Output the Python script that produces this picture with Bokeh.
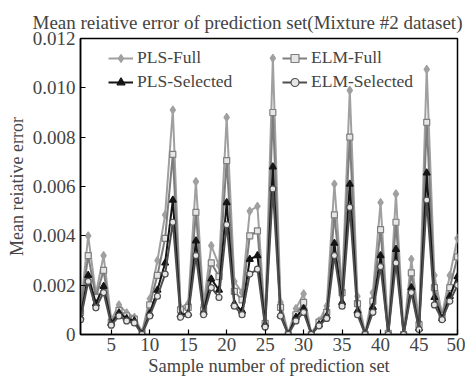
from bokeh.plotting import figure
from bokeh.models import Legend, LegendItem, FixedTicker, NumeralTickFormatter, Range1d
from bokeh.embed import file_html
from bokeh.resources import INLINE

samples = list(range(1, 51))
pls_full = [0.0010, 0.0040, 0.00165, 0.0032, 0.0006, 0.0012, 0.00088, 0.0007, 0.0001, 0.00145,
            0.0030, 0.00485, 0.0091, 0.0011, 0.00125, 0.0062, 0.0012, 0.0036, 0.0028, 0.0088,
            0.00215, 0.0017, 0.0050, 0.0052, 0.0005, 0.0112, 0.0013, 0.00005, 0.00105, 0.00165,
            0.00005, 0.00055, 0.00115, 0.0061, 0.0018, 0.0099, 0.00155, 0.00005, 0.0017, 0.00535,
            0.0001, 0.0057, 0.00005, 0.00305, 0.0005, 0.01075, 0.0024, 0.0008, 0.0024, 0.0039]
elm_full = [0.0009, 0.0032, 0.0015, 0.0026, 0.0005, 0.00098, 0.00075, 0.00062, 0.00005, 0.0012,
            0.0024, 0.0039, 0.0073, 0.0010, 0.0011, 0.00495, 0.0010, 0.0029, 0.00235, 0.00705,
            0.00175, 0.0014, 0.0040, 0.0042, 0.00045, 0.0090, 0.0011, 0.0, 0.0008, 0.0013,
            0.0, 0.0005, 0.0009, 0.00485, 0.0017, 0.0080, 0.00125, 0.0, 0.00135, 0.00425,
            0.00005, 0.00455, 0.0, 0.0025, 0.0004, 0.0086, 0.0019, 0.00075, 0.0019, 0.00315]
pls_sel = [0.0007, 0.0024, 0.00125, 0.00195, 0.00045, 0.00088, 0.00065, 0.00055, 0.00002, 0.00085,
           0.0018, 0.0029, 0.00545, 0.0008, 0.00085, 0.0038, 0.0009, 0.00225, 0.0018, 0.00535,
           0.00125, 0.00095, 0.00305, 0.0032, 0.0004, 0.0068, 0.0008, 0.0, 0.0007, 0.00105,
           0.0, 0.0004, 0.00075, 0.0037, 0.0013, 0.0061, 0.00095, 0.0, 0.0011, 0.0032,
           0.0, 0.00345, 0.0, 0.0019, 0.00025, 0.00655, 0.0015, 0.00065, 0.00155, 0.00235]
elm_sel = [0.0006, 0.00215, 0.00108, 0.0017, 0.00038, 0.00075, 0.00055, 0.00047, 0.0, 0.00075,
           0.00155, 0.00245, 0.00455, 0.0007, 0.0008, 0.0032, 0.0008, 0.0019, 0.0015, 0.00445,
           0.00115, 0.0008, 0.00245, 0.00265, 0.0003, 0.0059, 0.00075, 0.0, 0.00055, 0.0009,
           0.0, 0.00035, 0.00065, 0.0032, 0.00115, 0.00515, 0.0008, 0.0, 0.0009, 0.00275,
           0.0, 0.0029, 0.0, 0.0017, 0.0002, 0.00545, 0.0012, 0.0006, 0.00135, 0.0020]

x_ticks = [5, 10, 15, 20, 25, 30, 35, 40, 45, 50]
y_ticks = [0, 0.002, 0.004, 0.006, 0.008, 0.010, 0.012]

FONT = "Liberation Serif"

p = figure(width=465, height=378, output_backend="svg", toolbar_location=None,
           x_range=Range1d(1, 50), y_range=Range1d(0, 0.012),
           min_border_left=80, min_border_right=8, min_border_top=38, min_border_bottom=43)

p.title.text = "Mean reiative error of prediction set(Mixture #2 dataset)"
p.title.text_font = FONT
p.title.text_font_size = "19px"
p.title.text_font_style = "normal"
p.title.align = "left"
p.title.vertical_align = "top"
p.title.offset = -48
p.title.standoff = 8

p.grid.visible = False
p.outline_line_color = "black"
p.outline_line_width = 1.5
p.background_fill_color = "white"

for ax in (p.xaxis[0], p.yaxis[0]):
    ax.axis_line_color = "black"
    ax.axis_line_width = 1.5
    ax.major_tick_in = 5
    ax.major_tick_out = 0
    ax.minor_tick_line_color = None
    ax.major_tick_line_color = "black"
    ax.major_tick_line_width = 1.2
    ax.major_label_text_font = FONT
    ax.major_label_text_font_size = "19px"
    ax.axis_label_text_font = FONT
    ax.axis_label_text_font_style = "normal"

p.xaxis[0].ticker = FixedTicker(ticks=x_ticks)
p.xaxis[0].axis_label = "Sample number of prediction set"
p.xaxis[0].axis_label_text_font_size = "18.5px"
p.xaxis[0].major_label_standoff = 3
p.xaxis[0].axis_label_standoff = 2

p.yaxis[0].ticker = FixedTicker(ticks=y_ticks)
p.yaxis[0].formatter = NumeralTickFormatter(format="0.000")
p.yaxis[0].major_label_overrides = {0: "0"}
p.yaxis[0].axis_label = "Mean reiative error"
p.yaxis[0].axis_label_text_font_size = "18px"
p.yaxis[0].major_label_standoff = 5
p.yaxis[0].axis_label_standoff = 3

series = [
    ("PLS-Full", pls_full, "#a0a0a0", "diamond", 8, "#a0a0a0"),
    ("ELM-Full", elm_full, "#7e7e7e", "square", 6, "#e6e6e6"),
    ("PLS-Selected", pls_sel, "#151515", "triangle", 7, "#151515"),
    ("ELM-Selected", elm_sel, "#4e4e4e", "circle", 6, "#e6e6e6"),
]

items = {}
for name, ys, col, mk, sz, fill in series:
    l = p.line(samples, ys, line_color=col, line_width=2)
    s = p.scatter(samples, ys, marker=mk, size=sz, line_color=col, fill_color=fill, line_width=1.2)
    items[name] = LegendItem(label=name, renderers=[l, s])

def make_legend(names, loc):
    lg = Legend(items=[items[n] for n in names], location=loc,
                label_text_font=FONT, label_text_font_size="17.5px",
                glyph_width=25, glyph_height=20, label_height=20, label_standoff=4,
                padding=0, spacing=3, margin=0,
                background_fill_alpha=0, border_line_alpha=0)
    return lg

p.add_layout(make_legend(["PLS-Full", "PLS-Selected"], (28, 242)))
p.add_layout(make_legend(["ELM-Full", "ELM-Selected"], (202, 242)))

open("out.html", "w").write(file_html(p, INLINE))
